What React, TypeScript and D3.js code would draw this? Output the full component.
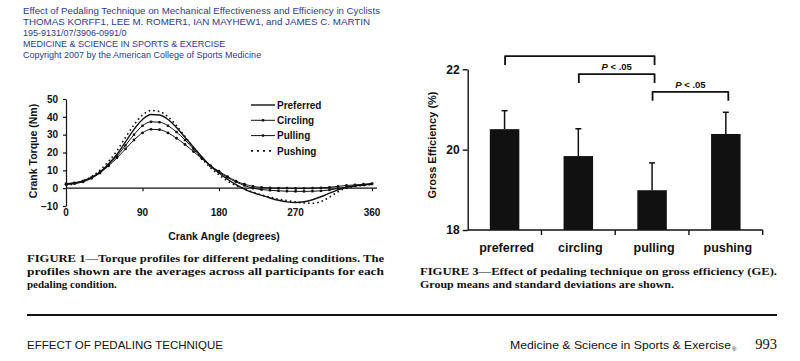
import React, { useEffect, useRef } from 'react';
import * as d3 from 'd3';

// Figure 1: crank torque profiles (Nm) against crank angle (degrees)
const angles = [0, 10, 20, 30, 40, 50, 60, 70, 80, 90, 100, 110, 120, 130, 140, 150, 160, 170, 180,
    190, 200, 210, 220, 230, 240, 250, 260, 270, 280, 290, 300, 310, 320, 330, 340, 350, 360];
const preferred = [2.5, 3, 4, 6, 9, 13.5, 19, 26, 33, 38.5, 41.3, 41, 38.5, 34, 28.5, 23, 17.5, 12.5, 8.5,
    5, 2, -0.5, -2.5, -4, -5.5, -6.8, -7.7, -8, -7.6, -6.5, -4.8, -2.8, -1, 0.5, 1.3, 1.8, 2.3];
const circling = [2.5, 3, 4, 6, 9, 13, 18, 24, 30, 35, 37.2, 37, 35, 31.5, 27, 22, 17, 12.5, 9,
    6, 3.5, 1.5, 0, -0.8, -1.2, -1.5, -1.7, -1.8, -1.8, -1.7, -1.5, -1, -0.2, 0.7, 1.3, 1.8, 2.3];
const pulling = [2, 2.5, 3.5, 5.5, 8.5, 12.5, 17, 22, 27, 31, 33, 32.8, 31, 28, 24.5, 20.5, 16.5, 12.5, 9.5,
    6.5, 4, 2.2, 1, 0.4, 0.1, 0, 0, -0.1, -0.1, 0, 0.2, 0.5, 1, 1.5, 1.8, 2.2, 2.6];
const pushing = [1.5, 2.5, 4, 6.5, 10, 15, 21, 28.5, 35.5, 41, 43.5, 43, 40, 35, 29, 22.5, 16.5, 11.5, 7.5,
    4, 1.5, -0.5, -2.3, -3.8, -5, -6.2, -7, -7.8, -8.3, -8.5, -7.5, -5, -2, 0, 1, 1.5, 2];
const seriesNames = ['Preferred', 'Circling', 'Pulling', 'Pushing'];
const torqueTicks = [-10, 0, 10, 20, 30, 40, 50];
const angleTicks = [0, 90, 180, 270, 360];

// Figure 3: gross efficiency (%), means and SD
const conditions = ['preferred', 'circling', 'pulling', 'pushing'];
const efficiencyMean = [20.51, 19.84, 18.99, 20.39];
const efficiencySd = [0.46, 0.68, 0.68, 0.54];
const efficiencyTicks = [18, 20, 22];
const comparisons: [string, string, string][] = [
    ['preferred', 'pulling', ''],
    ['circling', 'pulling', 'P < .05'],
    ['pulling', 'pushing', 'P < .05'],
];
const comparisonLevels = [22.33, 21.88, 21.44];

const headerLines = [
    'Effect of Pedaling Technique on Mechanical Effectiveness and Efficiency in Cyclists',
    'THOMAS KORFF1, LEE M. ROMER1, IAN MAYHEW1, and JAMES C. MARTIN',
    '195-9131/07/3906-0991/0',
    'MEDICINE & SCIENCE IN SPORTS & EXERCISE',
    'Copyright 2007 by the American College of Sports Medicine',
];
const caption1 = [
    'FIGURE 1\u2014Torque profiles for different pedaling conditions. The',
    'profiles shown are the averages across all participants for each',
    'pedaling condition.',
];
const caption3 = [
    'FIGURE 3\u2014Effect of pedaling technique on gross efficiency (GE).',
    'Group means and standard deviations are shown.',
];

const SANS = 'Liberation Sans, Arial, sans-serif';
const SERIF = 'Liberation Serif, Times New Roman, serif';
const INK = '#111';

export default function App() {
    const ref = useRef<SVGSVGElement>(null);

    useEffect(() => {
        if (!ref.current) return;
        const svg = d3.select(ref.current);
        svg.selectAll('*').remove();

        // header block (blue)
        const header = svg.append('g').attr('font-family', SANS).attr('font-size', 9).attr('fill', '#2f3a8e');
        headerLines.forEach((t, i) => {
            const txt = header.append('text').attr('x', 23).attr('y', 13.5 + i * 11.2).text(t);
            if (i === 0) txt.attr('textLength', 357).attr('lengthAdjust', 'spacingAndGlyphs');
            if (i === 1) txt.attr('textLength', 347).attr('lengthAdjust', 'spacingAndGlyphs');
        });

        // ---------- Figure 1 ----------
        const x = d3.scaleLinear().domain([0, 360]).range([66, 372]);
        const y = d3.scaleLinear().domain([-10, 50]).range([206, 99]);
        const f1 = svg.append('g').attr('font-family', SANS).attr('font-weight', 'bold').attr('fill', INK);

        const yAxis = f1.append('g')
            .attr('transform', `translate(${x(0)},0)`)
            .call(d3.axisLeft(y).tickValues(torqueTicks).tickSize(3).tickSizeOuter(0).tickFormat(d => {
                const v = d as number;
                return v < 0 ? `\u2212${Math.abs(v)}` : `${v}`;
            }));
        yAxis.selectAll('path, line').attr('stroke', INK).attr('stroke-width', 1.2);
        yAxis.selectAll('text').attr('font-size', 10).attr('font-family', SANS).attr('font-weight', 'bold').attr('fill', INK).attr('dx', -2);

        const xAxis = f1.append('g')
            .attr('transform', `translate(0,${y(0)})`)
            .call(d3.axisBottom(x).tickValues(angleTicks.slice(1)).tickSize(3).tickSizeOuter(0).tickFormat(() => ''));
        xAxis.select('path.domain').remove();
        xAxis.selectAll('line').attr('stroke', INK).attr('stroke-width', 1.2);
        f1.append('line').attr('x1', x(0)).attr('x2', x(360) + 5).attr('y1', y(0)).attr('y2', y(0))
            .attr('stroke', INK).attr('stroke-width', 1.2);
        f1.selectAll('text.xlab').data(angleTicks).enter().append('text')
            .attr('class', 'xlab')
            .attr('x', d => x(d)).attr('y', y(-10) + 10)
            .attr('text-anchor', 'middle').attr('font-size', 10)
            .text(d => d);

        f1.append('text').attr('x', 224).attr('y', 240).attr('text-anchor', 'middle').attr('font-size', 10.5)
            .text('Crank Angle (degrees)');
        f1.append('text').attr('transform', 'translate(37,151) rotate(-90)').attr('text-anchor', 'middle')
            .attr('font-size', 10.5).text('Crank Torque (Nm)');

        const line = d3.line<number>()
            .x((_, i) => x(angles[i]))
            .y(d => y(d))
            .curve(d3.curveMonotoneX);
        const plot = f1.append('g').attr('fill', 'none');
        plot.append('path').attr('d', line(pushing)).attr('stroke', INK).attr('stroke-width', 1.6).attr('stroke-dasharray', '1.6,3');
        plot.append('path').attr('d', line(pulling)).attr('stroke', INK).attr('stroke-width', 1);
        plot.append('path').attr('d', line(circling)).attr('stroke', INK).attr('stroke-width', 1);
        plot.append('path').attr('d', line(preferred)).attr('stroke', INK).attr('stroke-width', 1.4);
        f1.append('g').selectAll('rect').data(circling).enter().append('rect')
            .attr('x', (_, i) => x(angles[i]) - 1.2).attr('y', d => y(d) - 1.2)
            .attr('width', 2.4).attr('height', 2.4).attr('fill', INK);
        f1.append('g').selectAll('circle').data(pulling).enter().append('circle')
            .attr('cx', (_, i) => x(angles[i])).attr('cy', d => y(d)).attr('r', 1.4).attr('fill', INK);

        // legend
        const legend = f1.append('g');
        seriesNames.forEach((name, i) => {
            const ly = 105 + i * 15.3;
            const l = legend.append('line').attr('x1', 251).attr('x2', 275).attr('y1', ly).attr('y2', ly).attr('stroke', INK);
            if (i === 0) l.attr('stroke-width', 1.4);
            if (i === 1 || i === 2) l.attr('stroke-width', 1);
            if (i === 3) l.attr('stroke-width', 1.6).attr('stroke-dasharray', '2,4');
            if (i === 1) legend.append('rect').attr('x', 261.8).attr('y', ly - 1.2).attr('width', 2.4).attr('height', 2.4).attr('fill', INK);
            if (i === 2) legend.append('circle').attr('cx', 263).attr('cy', ly).attr('r', 1.4).attr('fill', INK);
            legend.append('text').attr('x', 277).attr('y', ly + 3.6).attr('font-size', 10).text(name);
        });

        // ---------- Figure 3 ----------
        const x2 = d3.scaleBand<string>().domain(conditions).range([467.7, 762.7]).paddingInner(0.6).paddingOuter(0.3);
        const y2 = d3.scaleLinear().domain([18, 22]).range([230, 69.3]);
        const f3 = svg.append('g').attr('font-family', SANS).attr('font-weight', 'bold').attr('fill', INK);
        const cx = (c: string) => (x2(c) ?? 0) + x2.bandwidth() / 2;

        const yAxis2 = f3.append('g')
            .attr('transform', 'translate(467.7,0)')
            .call(d3.axisLeft(y2).tickValues(efficiencyTicks).tickSize(5).tickSizeOuter(0).tickFormat(d3.format('d')));
        yAxis2.selectAll('path, line').attr('stroke', INK).attr('stroke-width', 1.4);
        yAxis2.selectAll('text').attr('font-size', 12).attr('font-family', SANS).attr('font-weight', 'bold').attr('fill', INK);

        f3.append('line').attr('x1', 467.7).attr('x2', 762.7).attr('y1', y2(18)).attr('y2', y2(18))
            .attr('stroke', INK).attr('stroke-width', 1.4);
        f3.selectAll('line.xtick').data(conditions).enter().append('line')
            .attr('class', 'xtick')
            .attr('x1', d => cx(d) + x2.step() / 2).attr('x2', d => cx(d) + x2.step() / 2)
            .attr('y1', y2(18)).attr('y2', y2(18) + 5)
            .attr('stroke', INK).attr('stroke-width', 1.4);
        f3.selectAll('text.cat').data(conditions).enter().append('text')
            .attr('class', 'cat')
            .attr('x', d => cx(d) + 2).attr('y', 252)
            .attr('text-anchor', 'middle').attr('font-size', 12.5)
            .text(d => d);

        f3.append('text').attr('transform', 'translate(436,145) rotate(-90)').attr('text-anchor', 'middle')
            .attr('font-size', 11).text('Gross Efficiency (%)');

        f3.selectAll('rect.bar').data(conditions).enter().append('rect')
            .attr('class', 'bar')
            .attr('x', d => x2(d) ?? 0).attr('width', x2.bandwidth())
            .attr('y', (_, i) => y2(efficiencyMean[i]))
            .attr('height', (_, i) => y2(18) - y2(efficiencyMean[i]))
            .attr('fill', INK);
        const err = f3.append('g').attr('stroke', INK).attr('stroke-width', 1.5);
        conditions.forEach((c, i) => {
            const top = y2(efficiencyMean[i] + efficiencySd[i]);
            err.append('line').attr('x1', cx(c)).attr('x2', cx(c)).attr('y1', y2(efficiencyMean[i])).attr('y2', top);
            err.append('line').attr('x1', cx(c) - 3).attr('x2', cx(c) + 3).attr('y1', top).attr('y2', top);
        });

        comparisons.forEach(([a, b, label], i) => {
            const by = y2(comparisonLevels[i]);
            const xa = cx(a) + 0.5;
            const xb = cx(b) + 2.5;
            f3.append('path')
                .attr('d', `M${xa},${by + 9}L${xa},${by}L${xb},${by}L${xb},${by + 9}`)
                .attr('fill', 'none').attr('stroke', INK).attr('stroke-width', 1.8).attr('stroke-linejoin', 'round');
            if (label) {
                const t = f3.append('text').attr('x', (xa + xb) / 2).attr('y', by - 4)
                    .attr('text-anchor', 'middle').attr('font-size', 9.5);
                t.append('tspan').attr('font-style', 'italic').text(label.slice(0, 1));
                t.append('tspan').text(label.slice(1));
            }
        });

        // ---------- captions ----------
        const cap = svg.append('g').attr('font-family', SERIF).attr('font-weight', 'bold').attr('font-size', 11).attr('fill', INK);
        caption1.forEach((t, i) => {
            const txt = cap.append('text').attr('x', 27).attr('y', 262 + i * 13).text(t);
            if (i < caption1.length - 1) txt.attr('textLength', 357).attr('lengthAdjust', 'spacingAndGlyphs');
        });
        caption3.forEach((t, i) => {
            const txt = cap.append('text').attr('x', 420).attr('y', 275 + i * 12.5).text(t);
            if (i < caption3.length - 1) txt.attr('textLength', 357).attr('lengthAdjust', 'spacingAndGlyphs');
            else txt.attr('textLength', 254).attr('lengthAdjust', 'spacingAndGlyphs');
        });

        // ---------- running footer ----------
        svg.append('line').attr('x1', 27).attr('x2', 777).attr('y1', 315).attr('y2', 315)
            .attr('stroke', INK).attr('stroke-width', 2);
        const foot = svg.append('g').attr('font-family', SANS).attr('fill', INK);
        foot.append('text').attr('x', 27).attr('y', 349).attr('font-size', 11)
            .attr('textLength', 196).attr('lengthAdjust', 'spacingAndGlyphs').text('EFFECT OF PEDALING TECHNIQUE');
        foot.append('text').attr('x', 510).attr('y', 349).attr('font-size', 11.5)
            .attr('textLength', 221).attr('lengthAdjust', 'spacingAndGlyphs').text('Medicine & Science in Sports & Exercise');
        foot.append('text').attr('x', 732).attr('y', 351).attr('font-size', 6).text('\u00ae');
        foot.append('text').attr('x', 777).attr('y', 349).attr('text-anchor', 'end')
            .attr('font-family', SERIF).attr('font-size', 14.5).text('993');
    }, []);

    return (
        <div style={{ position: 'absolute', left: 0, top: 0, background: '#fff' }}>
            <svg ref={ref} width={800} height={361} style={{ display: 'block' }} />
        </div>
    );
}
